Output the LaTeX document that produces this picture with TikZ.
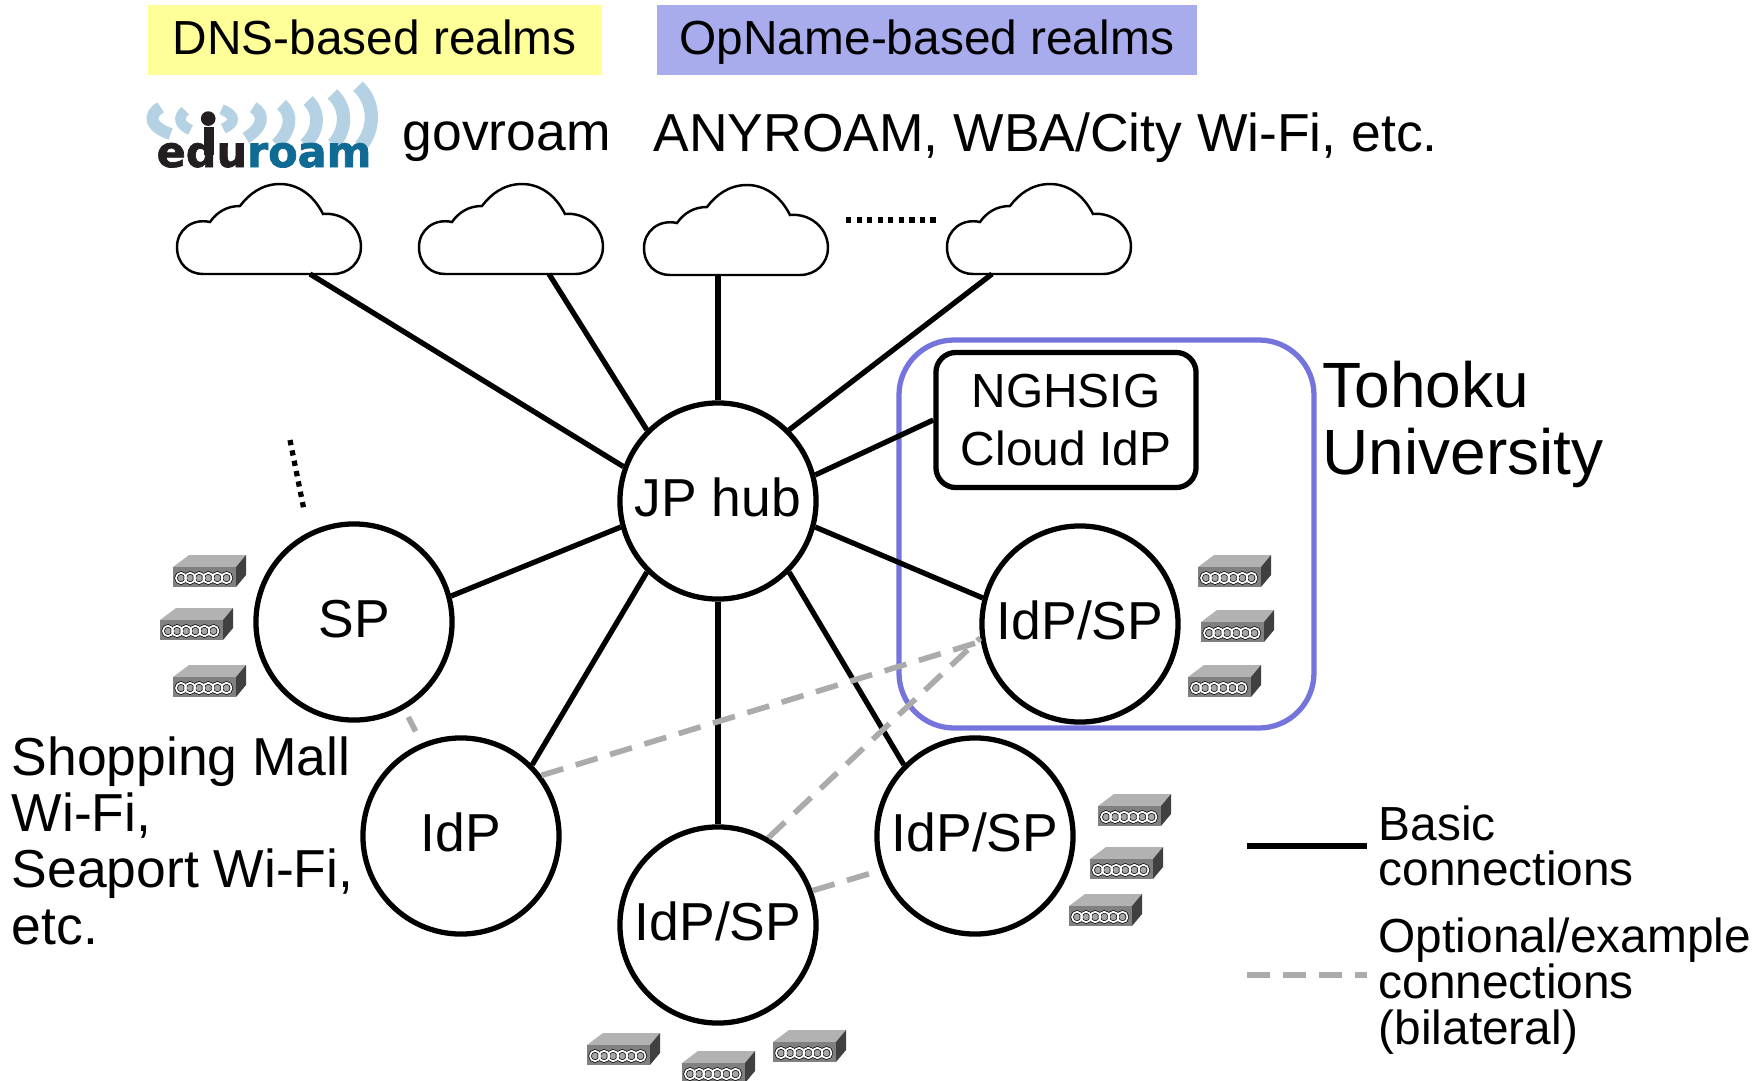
\documentclass[tikz,border=0pt]{standalone}
\usepackage{fontspec}
\setmainfont{Liberation Sans}
\newfontfamily\logofont[BoldFeatures={FakeBold=1.6}]{DejaVu Sans}
\usetikzlibrary{positioning}
\definecolor{dnsyellow}{HTML}{FFFF99}
\definecolor{opblue}{HTML}{A9ACEC}
\definecolor{univblue}{HTML}{7474DC}
\definecolor{optgray}{HTML}{ABABAB}
\definecolor{arcblue}{HTML}{B5D2E4}
\definecolor{roamblue}{HTML}{0F6A94}
\definecolor{edublack}{HTML}{231F20}
\tikzset{
	hub/.style={draw, circle, fill=white, line width=1.5pt, inner sep=0pt, minimum size=1.96cm, text height=11pt, text depth=2.3pt, font=\fontsize{15.2}{16}\selectfont},
	basic/.style={line width=1.5pt},
	optional/.style={optgray, line width=1.6pt, dash pattern=on 6.5pt off 3.7pt},
	dots/.style={line width=1.5pt, dash pattern=on 1.5pt off 1.5pt},
	banner/.style={anchor=north west, inner sep=0pt, minimum height=0.70cm, text height=10.5pt, text depth=2.2pt, font=\fontsize{13.6}{15}\selectfont},
	label/.style={anchor=west, inner sep=0pt, align=left},
	waves/.style={arcblue, line width=#1},
	cloudshape/.pic={
		\draw[line width=0.7pt, fill=white] (26,0) -- (156,0) .. controls (172,0) and (184,-12) .. (184,-27)
			.. controls (184,-48) and (165,-62) .. (146,-60)
			.. controls (136,-80) and (120,-90) .. (103,-90)
			.. controls (85,-90) and (72,-80) .. (63,-68)
			.. controls (50,-68) and (40,-62) .. (33,-52)
			.. controls (15,-56) and (0,-44) .. (0,-27)
			.. controls (0,-10) and (12,0) .. (26,0) -- cycle;
	},
	device/.pic={
		\fill[gray!60!white] (0,0) -- (16,-12) -- (73,-12) -- (63,0) -- cycle;
		\fill[black!75] (63,0) -- (73,-12) -- (73,8) -- (63,20) -- cycle;
		\fill[black!50] (0,0) rectangle (63,20);
		\foreach \i in {0,...,5}
			\draw[black, line width=0.9pt, fill=black!35] (8+\i*9.1,11) ellipse [x radius=5, y radius=5.2];
		\foreach \i in {0,...,5}
			\draw[white, line width=0.5pt] (8+\i*9.1,11) ellipse [x radius=5, y radius=5.2];
	}
}
\begin{document}
\begin{tikzpicture}[x=0.01cm, y=-0.01cm]
	\useasboundingbox (0,0) rectangle (1753,1081);
	% BANNERS
	\node[banner, fill=dnsyellow, minimum width=4.54cm] (dnsbanner) at (147,4.5) {DNS-based realms};
	\node[banner, fill=opblue, minimum width=5.40cm] (opbanner) at (656,4.5) {OpName-based realms};
	% LOGO
	\begin{scope}[shift={(140,78)}, x=0.00333cm, y=-0.00333cm]
		\draw[waves=3.4pt] (62,88) .. controls (22,112) and (30,148) .. (92,168);
		\draw[waves=3pt] (136,98) .. controls (112,118) and (118,142) .. (152,156);
		\draw[waves=3pt] (245,94) .. controls (290,112) and (288,136) .. (250,152);
		\draw[waves=3.4pt] (340,88) .. controls (378,110) and (368,150) .. (318,180);
		\draw[waves=3.6pt] (425,80) .. controls (462,110) and (452,160) .. (410,200);
		\draw[waves=3.6pt] (505,68) .. controls (545,105) and (535,165) .. (495,200);
		\draw[waves=3.8pt] (578,48) .. controls (625,90) and (620,160) .. (580,200);
		\draw[waves=3.8pt] (655,25) .. controls (710,75) and (705,160) .. (662,205);
		\fill[edublack] (205,122) circle (22);
		\fill[edublack] (192,146) rectangle (222,230);
	\end{scope}
	\node[anchor=base west, inner sep=0pt, font=\logofont\bfseries\fontsize{12.2}{14}\selectfont] (eduroam) at (156,167) {\textcolor{edublack}{edu}\textcolor{roamblue}{roam}};
	% REALM TEXT
	\node[label, font=\fontsize{15.2}{16}\selectfont] (govroam) at (402,142) {govroam};
	\node[label, font=\fontsize{15.2}{16}\selectfont] (anyroam) at (653,137.5) {ANYROAM, WBA/City Wi-Fi, etc.};
	% CLOUDS
	\pic at (177,274) {cloudshape};
	\pic at (419,274) {cloudshape};
	\pic at (644,275) {cloudshape};
	\pic at (947,274) {cloudshape};
	\coordinate (cloudA) at (310,274);
	\coordinate (cloudB) at (549,274);
	\coordinate (cloudC) at (718,275);
	\coordinate (cloudD) at (992,274);
	\coordinate (dotsAstart) at (846,220);
	\coordinate (dotsAend) at (937,220);
	\coordinate (dotsBstart) at (290,440);
	\coordinate (dotsBend) at (304,510);
	\draw[dots] (dotsAstart) -- (dotsAend);
	\draw[dots] (dotsBstart) -- (dotsBend);
	% TOHOKU
	\draw[univblue, line width=1.5pt, rounded corners=0.55cm] (899,340) rectangle (1314,728);
	\node[draw, fill=white, line width=1.5pt, rounded corners=0.2cm, minimum width=2.6cm, minimum height=1.35cm, inner sep=0pt, align=center, font=\fontsize{13.6}{16.5}\selectfont] (nghsig) at (1066,420) {NGHSIG\\Cloud IdP};
	\node[label, font=\fontsize{18.2}{19}\selectfont] (tohoku) at (1322,424.5) {Tohoku\\University};
	% HUBS
	\node[hub] (jphub) at (718,501) {JP hub};
	\node[hub] (sp) at (354,622) {SP};
	\node[hub] (idp) at (461,836) {IdP};
	\node[hub] (idpspB) at (718,925) {IdP/SP};
	\node[hub] (idpspR) at (975,836) {IdP/SP};
	\node[hub] (idpspT) at (1080,624) {IdP/SP};
	% BASIC
	\draw[basic] (jphub.160) -- (cloudA);
	\draw[basic] (jphub.135) -- (cloudB);
	\draw[basic] (jphub.90) -- (cloudC);
	\draw[basic] (jphub.45) -- (cloudD);
	\draw[basic] (jphub.15) -- (nghsig.west);
	\draw[basic] (jphub.-15) -- (idpspT.165);
	\draw[basic] (jphub.195) -- (sp.15);
	\draw[basic] (jphub.225) -- (idp.45);
	\draw[basic] (jphub.270) -- (idpspB.90);
	\draw[basic] (jphub.315) -- (idpspR.135);
	% OPTIONAL
	\draw[optional, shorten <=2.5pt, shorten >=3.8pt] (sp.-60) -- (idp.113);
	\draw[optional] (idp.37) -- (idpspT.190);
	\draw[optional] (idpspB.60) -- (idpspT.188);
	\draw[optional] (idpspB.20) -- (idpspR.200);
	% DEVICES
	\foreach \px/\py in {173/567,160/620,173/677,1198/567,1201/622,1188/677,1098/806,1090/859,1069/906,587/1045,682/1063,773/1042}
		\pic at (\px,\py) {device};
	% SIDE TEXT
	\node[label, font=\fontsize{15.2}{16}\selectfont] (mall) at (11,840.5) {Shopping Mall\\Wi-Fi,\\Seaport Wi-Fi,\\etc.};
	% LEGEND
	\coordinate (basicA) at (1247,846);
	\coordinate (basicB) at (1367,846);
	\coordinate (optA) at (1247,975);
	\coordinate (optB) at (1367,975);
	\draw[basic, line width=1.7pt] (basicA) -- (basicB);
	\draw[optional] (optA) -- (optB);
	\node[label, font=\fontsize{13.6}{13}\selectfont] (basiclabel) at (1378,846) {Basic\\connections};
	\node[label, font=\fontsize{13.6}{13}\selectfont] (optlabel) at (1378,986) {Optional/example\\connections\\(bilateral)};
\end{tikzpicture}
\end{document}
